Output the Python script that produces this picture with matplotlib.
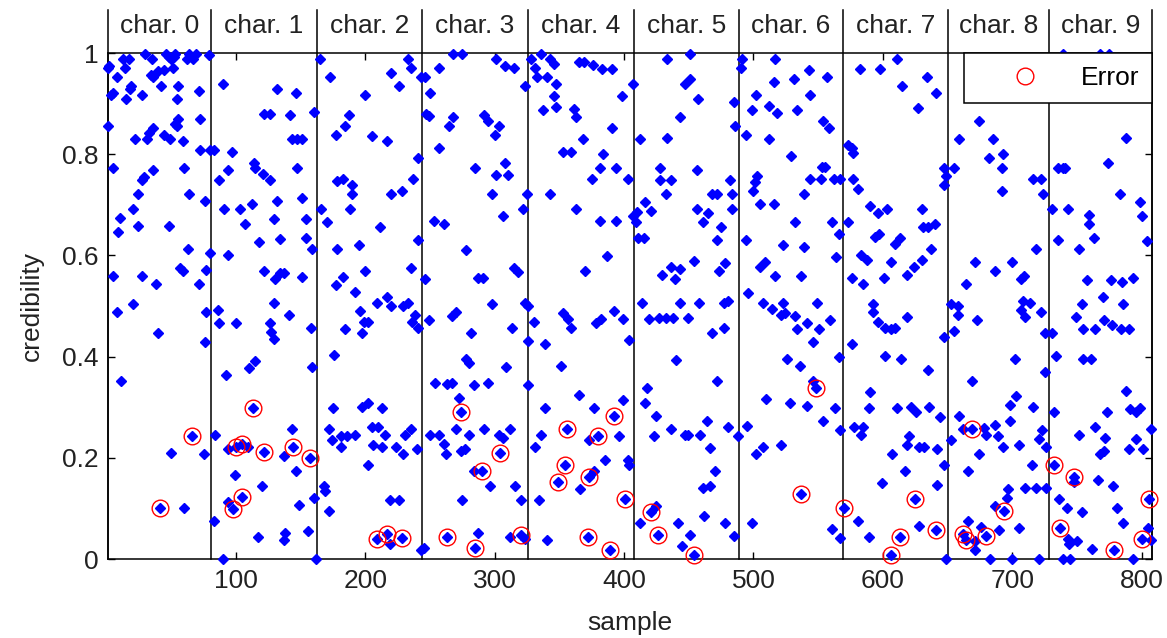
import matplotlib
matplotlib.use("Agg")
import matplotlib.pyplot as plt

# Character groups along the sample axis
CHAR_LABELS = ["char. 0", "char. 1", "char. 2", "char. 3", "char. 4",
               "char. 5", "char. 6", "char. 7", "char. 8", "char. 9"]
CHAR_EDGES = [1, 80.5, 162.5, 243.5, 325.5, 407.5, 488.5, 569.5, 650.5, 728.5, 808]

# credibility per sample, one pair of lists per character
char0_sample = [1, 2, 30, 46, 53, 64, 69, 79, 13, 17, 14, 35, 48, 50, 52, 62, 67,
                8, 34, 40, 44, 51, 36, 19, 18, 5, 3, 15, 27, 42, 55, 54, 71,
                1, 22, 31, 36, 33, 44, 49, 53, 55, 54, 59, 72, 72, 80,
                5, 27, 29, 36, 60, 24, 64, 76, 10, 20, 9, 24, 48, 63, 80,
                5, 27, 57, 59, 77, 38, 71, 20, 8, 77, 40, 76, 11,
                66, 50, 75, 41, 60]
char0_cred = [0.971, 0.975, 0.998, 0.998, 0.998, 0.998, 0.998, 0.997, 0.989, 0.989, 0.971, 0.989, 0.993, 0.989, 0.993, 0.989, 0.989,
              0.953, 0.957, 0.964, 0.967, 0.971, 0.953, 0.935, 0.928, 0.920, 0.917, 0.909, 0.917, 0.935, 0.935, 0.909, 0.924,
              0.855, 0.830, 0.830, 0.851, 0.841, 0.837, 0.830, 0.859, 0.870, 0.855, 0.826, 0.870, 0.808, 0.808,
              0.772, 0.750, 0.754, 0.768, 0.772, 0.721, 0.721, 0.708, 0.674, 0.691, 0.647, 0.659, 0.659, 0.612, 0.605,
              0.560, 0.560, 0.576, 0.569, 0.572, 0.543, 0.543, 0.504, 0.489, 0.489, 0.446, 0.428, 0.351,
              0.243, 0.210, 0.207, 0.101, 0.101]

char1_sample = [90, 132, 146, 122, 126, 142, 160, 143, 147, 151, 83, 97, 94, 87, 114, 115, 121, 126, 147,
                91, 103, 112, 107, 132, 129, 151, 154, 118, 134, 154, 159, 94,
                122, 130, 134, 137, 151, 86, 129, 141, 87, 100, 126, 127, 129, 158,
                115, 110, 159, 92, 113, 84, 143, 100, 105, 94, 109, 122, 137, 144, 157,
                146, 99, 120, 105, 149, 98, 94, 83, 160, 117, 138, 137, 156, 90, 162]
char1_cred = [0.938, 0.928, 0.920, 0.880, 0.880, 0.877, 0.884, 0.830, 0.830, 0.830, 0.808, 0.804, 0.768, 0.750, 0.783, 0.772, 0.761, 0.750, 0.772,
              0.691, 0.691, 0.701, 0.662, 0.707, 0.672, 0.714, 0.672, 0.627, 0.633, 0.634, 0.612, 0.600,
              0.569, 0.554, 0.565, 0.565, 0.558, 0.493, 0.505, 0.482, 0.467, 0.466, 0.466, 0.449, 0.435, 0.457,
              0.391, 0.377, 0.379, 0.364, 0.299, 0.246, 0.257, 0.221, 0.227, 0.217, 0.222, 0.212, 0.203, 0.221, 0.199,
              0.174, 0.167, 0.145, 0.122, 0.107, 0.098, 0.112, 0.076, 0.120, 0.043, 0.051, 0.038, 0.056, 0.0, 0.0]

char2_sample = [165, 173, 220, 233, 235, 226, 243, 200, 187, 184, 177, 205, 217, 241, 237, 178, 183, 190, 190,
                220, 228, 166, 170, 188, 211, 241, 178, 195, 200, 235, 177, 183, 192, 209, 217, 220, 229,
                233, 238, 236, 241, 196, 199, 202, 184, 197, 176, 175, 197, 202, 213, 172, 174, 181, 181,
                186, 192, 205, 210, 215, 206, 213, 224, 229, 231, 235, 240, 202, 168, 169, 219, 226, 172,
                209, 217, 219, 228, 243]
char2_cred = [0.989, 0.953, 0.960, 0.989, 0.971, 0.935, 0.953, 0.917, 0.877, 0.855, 0.838, 0.836, 0.826, 0.792, 0.751, 0.748, 0.751, 0.739, 0.721,
              0.721, 0.728, 0.692, 0.667, 0.692, 0.656, 0.630, 0.612, 0.621, 0.569, 0.575, 0.541, 0.558, 0.527, 0.505, 0.518, 0.500, 0.500,
              0.505, 0.482, 0.469, 0.457, 0.491, 0.469, 0.469, 0.455, 0.446, 0.404, 0.299, 0.301, 0.308, 0.299, 0.257, 0.236, 0.221, 0.244,
              0.244, 0.246, 0.261, 0.261, 0.246, 0.225, 0.221, 0.221, 0.207, 0.246, 0.257, 0.217, 0.185, 0.145, 0.134, 0.116, 0.116, 0.094,
              0.040, 0.049, 0.029, 0.041, 0.018]

char3_sample = [268, 275, 257, 246, 250, 301, 308, 315, 323, 247, 249, 268, 265, 292, 295, 303, 300, 257,
                285, 308, 301, 310, 298, 325, 322, 306, 253, 261, 278, 287, 291, 315, 318, 246, 298, 323,
                267, 270, 249, 313, 282, 278, 280, 309, 326, 254, 263, 267, 284, 295, 326, 272, 274, 250,
                257, 261, 262, 270, 280, 274, 277, 292, 303, 306, 312, 304, 284, 290, 296, 316, 320, 275,
                263, 287, 285, 312, 320, 323, 245]
char3_cred = [0.998, 0.998, 0.971, 0.953, 0.920, 0.989, 0.975, 0.971, 0.935, 0.880, 0.875, 0.873, 0.855, 0.877, 0.866, 0.855, 0.837, 0.812,
              0.773, 0.783, 0.759, 0.759, 0.721, 0.721, 0.691, 0.678, 0.669, 0.662, 0.611, 0.556, 0.556, 0.576, 0.567, 0.554, 0.504, 0.505,
              0.480, 0.489, 0.473, 0.457, 0.447, 0.396, 0.388, 0.379, 0.431, 0.348, 0.346, 0.348, 0.343, 0.348, 0.343, 0.319, 0.290, 0.246,
              0.246, 0.228, 0.207, 0.257, 0.246, 0.214, 0.217, 0.257, 0.246, 0.239, 0.257, 0.210, 0.174, 0.174, 0.145, 0.145, 0.116, 0.116,
              0.043, 0.051, 0.022, 0.043, 0.047, 0.040, 0.022]

char4_sample = [328, 336, 343, 346, 331, 333, 340, 347, 346, 347, 337, 365, 369, 376, 383, 391, 361, 363,
                398, 407, 391, 368, 353, 359, 384, 381, 394, 375, 403, 343, 363, 381, 394, 407, 387, 370,
                326, 330, 353, 357, 359, 378, 382, 392, 399, 404, 339, 351, 365, 339, 377, 399, 392, 356,
                380, 336, 396, 331, 373, 354, 385, 403, 404, 349, 373, 377, 366, 334, 401, 372, 340, 389]
char4_cred = [0.989, 0.998, 0.989, 0.978, 0.971, 0.953, 0.953, 0.938, 0.915, 0.893, 0.888, 0.982, 0.982, 0.976, 0.969, 0.969, 0.889, 0.873,
              0.915, 0.938, 0.851, 0.830, 0.804, 0.804, 0.800, 0.773, 0.773, 0.751, 0.751, 0.721, 0.691, 0.669, 0.669, 0.678, 0.599, 0.569,
              0.500, 0.469, 0.486, 0.475, 0.457, 0.467, 0.475, 0.491, 0.475, 0.433, 0.425, 0.382, 0.324, 0.299, 0.299, 0.314, 0.283, 0.256,
              0.243, 0.246, 0.243, 0.221, 0.236, 0.186, 0.196, 0.196, 0.186, 0.152, 0.163, 0.174, 0.138, 0.116, 0.118, 0.043, 0.038, 0.018]

char5_sample = [433, 451, 447, 451, 457, 443, 433, 412, 485, 486, 456, 428, 428, 436, 432, 416, 421, 410,
                409, 411, 415, 468, 472, 482, 483, 483, 456, 465, 461, 475, 472, 454, 436, 443, 439, 429,
                478, 473, 414, 443, 458, 477, 480, 419, 427, 432, 438, 449, 468, 477, 440, 472, 418, 416,
                425, 423, 436, 447, 449, 459, 464, 466, 480, 488, 470, 461, 466, 421, 425, 412, 426, 442,
                462, 478, 485, 445, 451, 454]
char5_cred = [0.988, 0.998, 0.938, 0.949, 0.909, 0.873, 0.833, 0.830, 0.904, 0.855, 0.768, 0.773, 0.750, 0.750, 0.721, 0.705, 0.688, 0.686,
              0.667, 0.634, 0.634, 0.722, 0.722, 0.750, 0.722, 0.691, 0.691, 0.684, 0.667, 0.656, 0.630, 0.589, 0.578, 0.573, 0.554, 0.562,
              0.586, 0.570, 0.505, 0.505, 0.505, 0.505, 0.509, 0.475, 0.476, 0.476, 0.476, 0.476, 0.447, 0.457, 0.393, 0.351, 0.338, 0.308,
              0.283, 0.243, 0.257, 0.246, 0.246, 0.246, 0.273, 0.220, 0.261, 0.243, 0.174, 0.141, 0.145, 0.092, 0.105, 0.072, 0.047, 0.072,
              0.085, 0.072, 0.046, 0.025, 0.047, 0.007]

char6_sample = [491, 490, 517, 516, 531, 543, 557, 502, 544, 499, 512, 518, 534, 554, 558, 494, 512, 529,
                553, 555, 544, 552, 562, 567, 503, 501, 500, 505, 516, 539, 532, 561, 566, 494, 523, 539,
                564, 505, 509, 517, 537, 496, 507, 514, 523, 521, 524, 532, 534, 541, 549, 551, 559, 546,
                526, 536, 566, 548, 546, 510, 528, 541, 563, 554, 495, 567, 507, 502, 521, 537, 499, 561, 567]
char6_cred = [0.989, 0.971, 0.988, 0.942, 0.949, 0.967, 0.952, 0.917, 0.917, 0.888, 0.895, 0.882, 0.888, 0.866, 0.851, 0.838, 0.830, 0.796,
              0.775, 0.775, 0.751, 0.751, 0.751, 0.751, 0.757, 0.746, 0.728, 0.701, 0.701, 0.721, 0.667, 0.667, 0.643, 0.630, 0.621, 0.617,
              0.596, 0.578, 0.587, 0.560, 0.560, 0.526, 0.505, 0.495, 0.505, 0.482, 0.486, 0.480, 0.455, 0.466, 0.505, 0.455, 0.473, 0.428,
              0.395, 0.382, 0.399, 0.338, 0.351, 0.317, 0.308, 0.302, 0.299, 0.273, 0.263, 0.254, 0.221, 0.207, 0.225, 0.128, 0.072, 0.060, 0.041]

char7_sample = [570, 582, 598, 611, 615, 634, 641, 627, 573, 576, 577, 577, 581, 647, 649, 647, 590, 596,
                603, 573, 630, 631, 635, 640, 597, 594, 609, 613, 637, 583, 588, 606, 624, 630, 619, 576,
                585, 601, 592, 592, 596, 602, 606, 609, 619, 647, 576, 602, 614, 635, 590, 589, 611, 622,
                626, 636, 644, 578, 585, 583, 620, 619, 628, 632, 642, 647, 607, 617, 599, 642, 625, 581,
                628, 641, 589, 613, 606, 649]
char7_cred = [0.101, 0.969, 0.969, 0.988, 0.935, 0.953, 0.920, 0.891, 0.819, 0.812, 0.802, 0.751, 0.732, 0.772, 0.757, 0.739, 0.697, 0.683,
              0.691, 0.667, 0.691, 0.656, 0.656, 0.662, 0.643, 0.636, 0.623, 0.634, 0.612, 0.601, 0.590, 0.587, 0.578, 0.590, 0.562, 0.556,
              0.543, 0.556, 0.504, 0.489, 0.469, 0.457, 0.454, 0.457, 0.478, 0.438, 0.425, 0.402, 0.395, 0.373, 0.330, 0.299, 0.299, 0.301,
              0.290, 0.301, 0.280, 0.261, 0.261, 0.246, 0.244, 0.225, 0.222, 0.222, 0.217, 0.186, 0.207, 0.174, 0.150, 0.147, 0.118, 0.075,
              0.065, 0.058, 0.043, 0.043, 0.007, 0.0]

char8_sample = [674, 659, 685, 682, 693, 692, 692, 655, 716, 722, 724, 718, 671, 700, 687, 709, 707, 664,
                653, 658, 658, 673, 708, 707, 714, 710, 722, 725, 655, 702, 725, 669, 703, 698, 716, 698,
                659, 678, 680, 687, 689, 693, 705, 723, 721, 653, 662, 669, 674, 715, 726, 666, 710, 718,
                726, 697, 696, 694, 687, 666, 662, 664, 680, 676, 671, 690, 705, 671, 683, 700, 721]
char8_cred = [0.866, 0.830, 0.830, 0.792, 0.800, 0.773, 0.727, 0.773, 0.751, 0.751, 0.721, 0.612, 0.587, 0.587, 0.569, 0.560, 0.554, 0.543,
              0.504, 0.500, 0.483, 0.473, 0.509, 0.493, 0.505, 0.478, 0.489, 0.447, 0.451, 0.395, 0.370, 0.351, 0.322, 0.304, 0.301, 0.273,
              0.283, 0.259, 0.246, 0.264, 0.243, 0.222, 0.225, 0.254, 0.237, 0.236, 0.257, 0.257, 0.207, 0.185, 0.221, 0.174, 0.141, 0.141,
              0.141, 0.138, 0.121, 0.094, 0.104, 0.076, 0.050, 0.037, 0.045, 0.063, 0.036, 0.058, 0.062, 0.018, 0.0, 0.0, 0.0]

char9_sample = [739, 768, 775, 788, 774, 735, 739, 741, 783, 799, 800, 731, 743, 759, 759, 763, 752, 735,
                804, 758, 776, 785, 793, 770, 786, 754, 749, 771, 755, 764, 777, 784, 790, 731, 734, 755,
                761, 788, 791, 799, 796, 773, 807, 732, 764, 752, 772, 771, 768, 790, 796, 801, 732, 748,
                748, 766, 778, 806, 736, 742, 754, 781, 786, 737, 743, 744, 750, 762, 779, 793, 805, 800,
                807, 739, 745]
char9_cred = [0.998, 0.998, 0.998, 0.833, 0.783, 0.773, 0.773, 0.772, 0.721, 0.705, 0.678, 0.691, 0.691, 0.679, 0.662, 0.634, 0.612, 0.630,
              0.628, 0.551, 0.551, 0.547, 0.556, 0.518, 0.504, 0.504, 0.478, 0.473, 0.455, 0.455, 0.462, 0.455, 0.455, 0.447, 0.401, 0.395,
              0.395, 0.333, 0.297, 0.299, 0.290, 0.290, 0.256, 0.290, 0.261, 0.246, 0.239, 0.214, 0.207, 0.217, 0.237, 0.217, 0.186, 0.162,
              0.152, 0.156, 0.145, 0.118, 0.118, 0.101, 0.092, 0.101, 0.072, 0.062, 0.040, 0.029, 0.036, 0.020, 0.017, 0.0, 0.062, 0.040,
              0.038, 0.0, 0.0]

# misclassified samples (circled)
err_sample = [66, 41,
              113, 100, 105, 122, 144, 157, 105, 98,
              209, 217, 228,
              274, 304, 290, 263, 285, 320,
              392, 356, 380, 354, 349, 373, 401, 372, 389,
              421, 426, 454,
              548, 537,
              570, 625, 641, 613, 606,
              669, 694, 662, 664, 680,
              732, 748, 806, 737, 779, 800]
err_cred = [0.243, 0.101,
            0.299, 0.221, 0.227, 0.212, 0.221, 0.199, 0.122, 0.098,
            0.040, 0.049, 0.041,
            0.290, 0.210, 0.174, 0.043, 0.022, 0.047,
            0.283, 0.256, 0.243, 0.186, 0.152, 0.163, 0.118, 0.043, 0.018,
            0.092, 0.047, 0.007,
            0.338, 0.128,
            0.101, 0.118, 0.058, 0.043, 0.007,
            0.257, 0.094, 0.050, 0.037, 0.045,
            0.186, 0.162, 0.118, 0.062, 0.017, 0.040]

all_samples = [char0_sample, char1_sample, char2_sample, char3_sample, char4_sample,
               char5_sample, char6_sample, char7_sample, char8_sample, char9_sample]
all_creds = [char0_cred, char1_cred, char2_cred, char3_cred, char4_cred,
             char5_cred, char6_cred, char7_cred, char8_cred, char9_cred]

plt.rcParams["font.family"] = ["Liberation Sans", "DejaVu Sans"]
plt.rcParams["font.size"] = 19

fig = plt.figure(figsize=(11.67, 6.38), dpi=100)
ax = fig.add_axes([0.0925, 0.1238, 0.8946, 0.7931])

for xs, ys in zip(all_samples, all_creds):
    ax.plot(xs, ys, linestyle="none", marker="D", ms=5, mew=1,
            color="#0000ff", clip_on=False, zorder=3)

ax.plot(err_sample, err_cred, linestyle="none", marker="o", ms=12, mfc="none",
        mec="#ff0000", mew=1, clip_on=False, zorder=4, label="Error")

# separators between characters, running up into the label strip
for edge in CHAR_EDGES:
    ax.plot([edge, edge], [0, 1.086], color="black", lw=1.1, clip_on=False, zorder=2)
for i, label in enumerate(CHAR_LABELS):
    ax.text((CHAR_EDGES[i] + CHAR_EDGES[i + 1]) / 2, 1.054, label,
            ha="center", va="center", color="#222222")

ax.set_xlim(1, 808)
ax.set_ylim(0, 1)
ax.set_xticks([100, 200, 300, 400, 500, 600, 700, 800])
ax.set_yticks([0, 0.2, 0.4, 0.6, 0.8, 1])
ax.set_yticklabels(["0", "0.2", "0.4", "0.6", "0.8", "1"])
ax.tick_params(direction="in", length=5, width=1, top=True, right=True, pad=7,
               colors="black", labelcolor="#222222")
for sp in ax.spines.values():
    sp.set_linewidth(1.1)

ax.set_xlabel("sample", color="#222222", labelpad=13)
ax.set_ylabel("credibility", color="#222222", labelpad=13)

leg = ax.legend(loc="upper right", borderaxespad=0, fancybox=False, framealpha=1,
                edgecolor="black", handlelength=3.64, handletextpad=0.3,
                borderpad=0.49, numpoints=1)
leg.get_frame().set_linewidth(1.1)
leg.set_zorder(10)

fig.savefig("out.png", dpi=100)
